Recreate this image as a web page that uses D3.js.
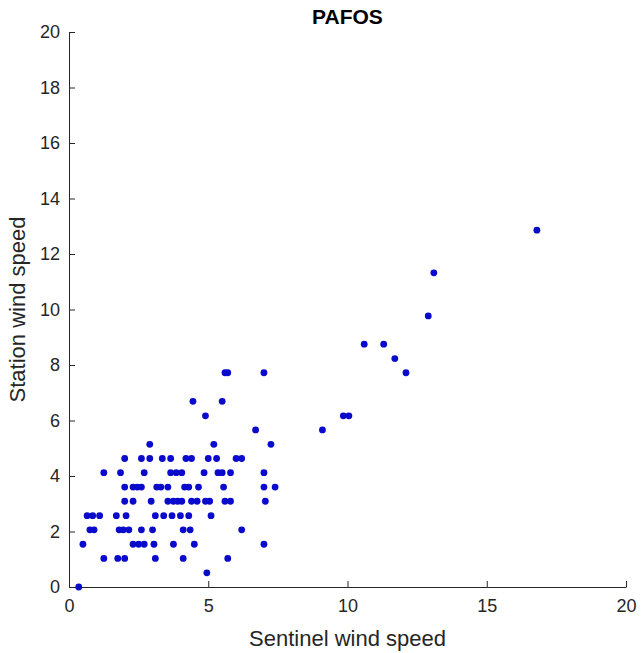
<!DOCTYPE html>
<html>
<head>
<meta charset="utf-8">
<script src="https://cdn.jsdelivr.net/npm/d3@7"></script>
<style>
  html, body { margin: 0; padding: 0; background: #ffffff; }
  svg { display: block; }
  text { font-family: "Liberation Sans", Arial, sans-serif; fill: #262626; }
</style>
</head>
<body>
<svg id="chart" width="641" height="653"></svg>
<script>
const chartTitle = "PAFOS";
const xLabel = "Sentinel wind speed";
const yLabel = "Station wind speed";
const xTicks = [0, 5, 10, 15, 20];
const yTicks = [0, 2, 4, 6, 8, 10, 12, 14, 16, 18, 20];

// Sentinel (x) and station (y) wind speeds
const sentinel = [
  0.35,
  4.95,
  1.25, 1.75, 2.0, 3.1, 4.1, 5.7,
  0.5, 2.3, 2.5, 2.7, 3.05, 3.75, 4.5, 7.0,
  0.75, 0.9, 1.8, 1.95, 2.15, 2.6, 3.0, 4.1, 4.35, 6.2,
  0.65, 0.85, 1.1, 1.7, 2.05, 3.1, 3.4, 3.7, 4.0, 4.3, 5.1,
  2.0, 2.3, 2.95, 3.55, 3.75, 3.9, 4.05, 4.4, 4.6, 4.9, 5.05, 5.6, 5.8, 7.05,
  2.0, 2.3, 2.45, 2.6, 3.15, 3.3, 3.55, 4.15, 4.3, 4.65, 5.55, 7.0, 7.4,
  1.25, 1.85, 2.7, 3.65, 3.85, 4.05, 4.85, 5.35, 5.5, 5.8, 7.0,
  2.0, 2.6, 2.9, 3.35, 3.65, 4.2, 4.4, 5.0, 5.3, 6.0, 6.2,
  2.9, 5.2, 7.25,
  6.7, 9.1,
  4.9, 9.85, 10.05,
  4.45, 5.5,
  5.6, 5.7, 7.0, 12.1,
  11.7,
  10.6, 11.3,
  12.9,
  13.1,
  16.8
];
const station = [
  0,
  0.51,
  1.03, 1.03, 1.03, 1.03, 1.03, 1.03,
  1.54, 1.54, 1.54, 1.54, 1.54, 1.54, 1.54, 1.54,
  2.06, 2.06, 2.06, 2.06, 2.06, 2.06, 2.06, 2.06, 2.06, 2.06,
  2.57, 2.57, 2.57, 2.57, 2.57, 2.57, 2.57, 2.57, 2.57, 2.57, 2.57,
  3.09, 3.09, 3.09, 3.09, 3.09, 3.09, 3.09, 3.09, 3.09, 3.09, 3.09, 3.09, 3.09, 3.09,
  3.60, 3.60, 3.60, 3.60, 3.60, 3.60, 3.60, 3.60, 3.60, 3.60, 3.60, 3.60, 3.60,
  4.12, 4.12, 4.12, 4.12, 4.12, 4.12, 4.12, 4.12, 4.12, 4.12, 4.12,
  4.63, 4.63, 4.63, 4.63, 4.63, 4.63, 4.63, 4.63, 4.63, 4.63, 4.63,
  5.14, 5.14, 5.14,
  5.66, 5.66,
  6.17, 6.17, 6.17,
  6.69, 6.69,
  7.72, 7.72, 7.72, 7.72,
  8.23,
  8.75, 8.75,
  9.77,
  11.32,
  12.86
];

const svg = d3.select("#chart");
const mLeft = 69, mRight = 626, mTop = 32, mBottom = 587;

const x = d3.scaleLinear().domain([0, 20]).range([mLeft, mRight]);
const y = d3.scaleLinear().domain([0, 20]).range([mBottom, mTop]);

const axisColor = "#262626";

const xAxis = svg.append("g")
  .attr("transform", `translate(0,${mBottom})`)
  .call(d3.axisBottom(x).tickValues(xTicks).tickFormat(d3.format("d"))
    .tickSizeInner(-6).tickSizeOuter(0).tickPadding(12));
const yAxis = svg.append("g")
  .attr("transform", `translate(${mLeft},0)`)
  .call(d3.axisLeft(y).tickValues(yTicks).tickFormat(d3.format("d"))
    .tickSizeInner(-6).tickSizeOuter(0).tickPadding(9));

[xAxis, yAxis].forEach(g => {
  g.select(".domain").attr("stroke", axisColor).attr("stroke-width", 1);
  g.selectAll(".tick line").attr("stroke", axisColor).attr("stroke-width", 1);
  g.selectAll(".tick text")
    .attr("fill", axisColor)
    .style("font-family", '"Liberation Sans", Arial, sans-serif')
    .style("font-size", "18px");
});

// points
const pts = sentinel.map((v, i) => ({ sx: v, sy: station[i] }));
svg.append("g").selectAll("circle")
  .data(pts)
  .enter().append("circle")
  .attr("cx", d => x(d.sx))
  .attr("cy", d => y(d.sy))
  .attr("r", 3.4)
  .attr("fill", "#0a0acd");

// title
svg.append("text")
  .attr("x", (mLeft + mRight) / 2)
  .attr("y", 24)
  .attr("text-anchor", "middle")
  .style("font-size", "21px")
  .style("font-weight", "bold")
  .style("fill", "#000")
  .text(chartTitle);

// x label
svg.append("text")
  .attr("x", (mLeft + mRight) / 2)
  .attr("y", 646)
  .attr("text-anchor", "middle")
  .style("font-size", "22px")
  .text(xLabel);

// y label
svg.append("text")
  .attr("transform", `translate(25,${(mTop + mBottom) / 2}) rotate(-90)`)
  .attr("text-anchor", "middle")
  .style("font-size", "22px")
  .text(yLabel);
</script>
</body>
</html>
